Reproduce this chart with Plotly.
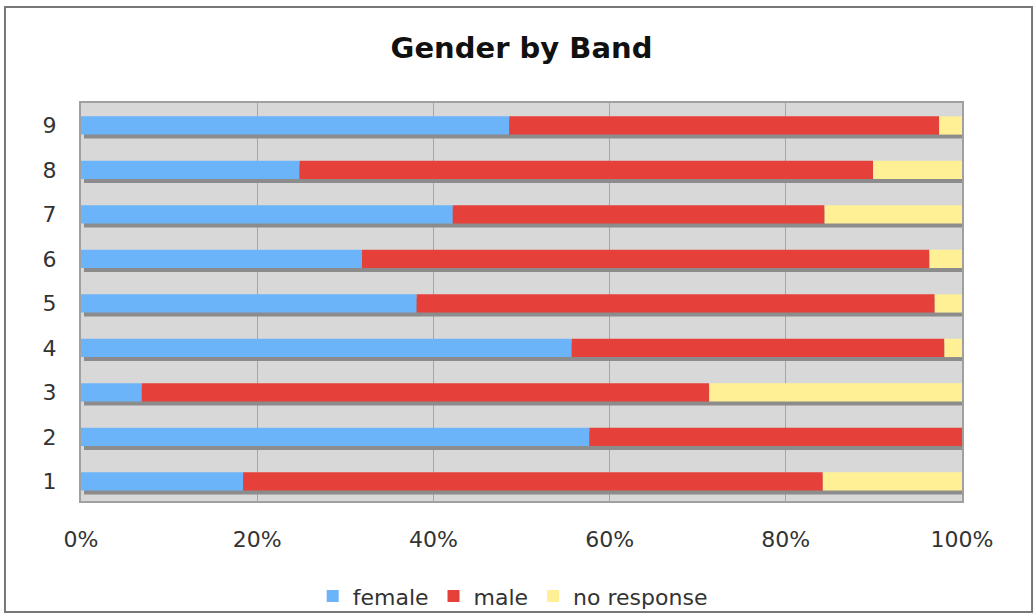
import plotly.graph_objects as go

bands = [1, 2, 3, 4, 5, 6, 7, 8, 9]
female = [18.4, 57.7, 6.9, 55.7, 38.1, 31.9, 42.2, 24.8, 48.6]
male = [65.8, 42.3, 64.4, 42.3, 58.8, 64.4, 42.2, 65.1, 48.8]
no_response = [15.8, 0.0, 28.7, 2.0, 3.1, 3.7, 15.6, 10.1, 2.6]

tick_vals = [0, 20, 40, 60, 80, 100]
tick_text = ["0%", "20%", "40%", "60%", "80%", "100%"]

BLUE = "#6cb4fa"
RED = "#e6403a"
YELLOW = "#fff096"
SHADOW = "#8c8c8c"
FONT = "DejaVu Sans"

totals = [f + m + n for f, m, n in zip(female, male, no_response)]
base_male = female
base_nr = [f + m for f, m in zip(female, male)]

BW = 0.41
fig = go.Figure()
# drop shadow behind each bar
fig.add_trace(go.Bar(
    y=bands, x=totals, base=0.34, orientation="h",
    width=BW, offset=-BW / 2 - 0.09,
    marker=dict(color=SHADOW, line=dict(width=0)),
    showlegend=False, hoverinfo="skip",
))
fig.add_trace(go.Bar(
    y=bands, x=female, base=0, orientation="h", name="female",
    width=BW, offset=-BW / 2,
    marker=dict(color=BLUE, line=dict(width=0)),
))
fig.add_trace(go.Bar(
    y=bands, x=male, base=base_male, orientation="h", name="male",
    width=BW, offset=-BW / 2,
    marker=dict(color=RED, line=dict(width=0)),
))
fig.add_trace(go.Bar(
    y=bands, x=no_response, base=base_nr, orientation="h", name="no response",
    width=BW, offset=-BW / 2,
    marker=dict(color=YELLOW, line=dict(width=0)),
))

fig.update_layout(
    width=1034, height=615,
    barmode="overlay",
    paper_bgcolor="white",
    plot_bgcolor="#d8d8d8",
    margin=dict(l=81, r=72, t=103, b=114, autoexpand=False),
    title=dict(
        text="<b>Gender by Band</b>",
        x=0.5, xref="paper", xanchor="center",
        y=1 - 48 / 615, yref="container", yanchor="middle",
        font=dict(family=FONT, size=29, color="#111111"),
    ),
    font=dict(family=FONT, size=22, color="#333333"),
    legend=dict(
        orientation="h", x=0.49, xanchor="center",
        y=-0.239, yanchor="middle",
        font=dict(family=FONT, size=22, color="#333333"),
        traceorder="normal", itemwidth=30, bgcolor="rgba(0,0,0,0)",
    ),
    xaxis=dict(
        range=[0, 100], tickvals=tick_vals, ticktext=tick_text,
        showgrid=True, gridcolor="#a6a6a6", gridwidth=1,
        showline=True, linecolor="#a0a0a0", linewidth=2, mirror=True,
        zeroline=False, ticks="", ticklabelstandoff=18,
        fixedrange=True, automargin=False,
    ),
    yaxis=dict(
        range=[0.56, 9.505], tickvals=bands, ticktext=[str(b) for b in bands],
        showgrid=False,
        showline=True, linecolor="#a0a0a0", linewidth=2, mirror=True,
        zeroline=False, ticks="", ticklabelstandoff=18,
        fixedrange=True, automargin=False,
    ),
    shapes=[dict(
        type="rect", xref="paper", yref="paper",
        x0=-0.0863, x1=1.0795, y0=-0.279, y1=1.2412,
        line=dict(color="#777777", width=2), layer="below",
    )],
)

fig.write_html(
    "out.html",
    config={"displayModeBar": False},
    post_script="document.body.style.margin='0';document.body.style.overflow='hidden';",
)
